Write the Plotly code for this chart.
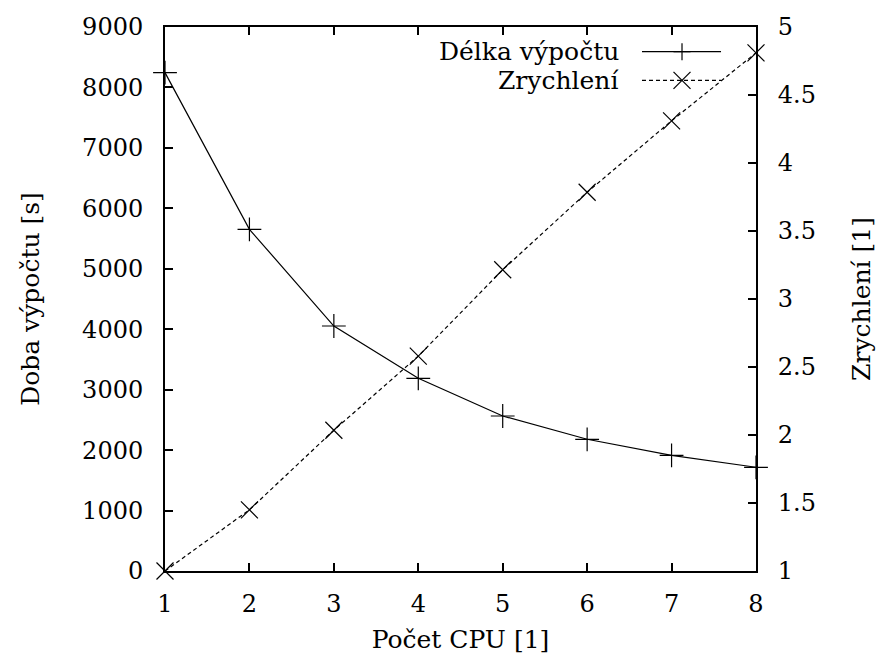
import plotly.graph_objects as go

cpus = [1, 2, 3, 4, 5, 6, 7, 8]
duration = [8245, 5653, 4053, 3188, 2564, 2179, 1914, 1716]
speedup = [1.0, 1.45, 2.035, 2.58, 3.215, 3.785, 4.31, 4.81]

series_names = ["Délka výpočtu", "Zrychlení"]
x_title = "Počet CPU [1]"
y_title = "Doba výpočtu [s]"
y2_title = "Zrychlení [1]"

FONT = "DejaVu Serif"
FS = 24

fig = go.Figure()
fig.add_trace(go.Scatter(
    x=cpus, y=duration, mode="lines+markers", name=series_names[0],
    line=dict(color="black", width=1.2),
    marker=dict(symbol="cross-thin", size=17, line=dict(color="black", width=1.2)),
    showlegend=False, cliponaxis=False))
fig.add_trace(go.Scatter(
    x=cpus, y=speedup, mode="lines+markers", name=series_names[1], yaxis="y2",
    line=dict(color="black", width=1.2, dash="4px,3px"),
    marker=dict(symbol="x-thin", size=17, line=dict(color="black", width=1.2)),
    showlegend=False, cliponaxis=False))

axis_common = dict(
    showgrid=False, zeroline=False, showline=True, linecolor="black", linewidth=2,
    ticks="inside", ticklen=8, tickwidth=1.5, tickcolor="black",
    tickfont=dict(family=FONT, size=FS, color="black"),
)

fig.update_layout(
    width=893, height=660,
    margin=dict(l=165, r=137, t=27, b=89),
    plot_bgcolor="white", paper_bgcolor="white",
    font=dict(family=FONT, size=FS, color="black"),
    xaxis=dict(range=[1, 8], dtick=1, tick0=1, mirror="ticks", ticklabelstandoff=10,
               title=dict(text=x_title, font=dict(family=FONT, size=25), standoff=14),
               **axis_common),
    yaxis=dict(range=[0, 9000], dtick=1000, tickformat="d", ticklabelstandoff=15,
               title=dict(text=y_title, font=dict(family=FONT, size=25), standoff=35),
               **axis_common),
    yaxis2=dict(range=[1, 5], dtick=0.5, overlaying="y", side="right", ticklabelstandoff=15,
                title=dict(text=y2_title, font=dict(family=FONT, size=25), standoff=38),
                **axis_common),
)

# gnuplot-style key (text right, sample on the right)
key_rows = [
    (series_names[0], 0.9546, "solid", "plus"),
    (series_names[1], 0.902, "dash", "x"),
]
for text, yk, dash, sym in key_rows:
    fig.add_annotation(x=0.771, y=yk, xref="paper", yref="paper", text=text,
                       showarrow=False, xanchor="right", yanchor="middle",
                       font=dict(family=FONT, size=25, color="black"))
    fig.add_shape(type="line", xref="paper", yref="paper", x0=0.8071, x1=0.9408,
                  y0=yk, y1=yk, line=dict(color="black", width=1.2,
                                          dash="solid" if dash == "solid" else "4px,3px"))
    if sym == "plus":
        segs = [(-8.5, 0, 8.5, 0), (0, -8.5, 0, 8.5)]
    else:
        segs = [(-8.5, -8.5, 8.5, 8.5), (-8.5, 8.5, 8.5, -8.5)]
    for a, b, c, d in segs:
        fig.add_shape(type="line", xref="paper", yref="paper",
                      xsizemode="pixel", ysizemode="pixel",
                      xanchor=0.8748, yanchor=yk, x0=a, y0=b, x1=c, y1=d,
                      line=dict(color="black", width=1.2))

fig.write_html("out.html")
